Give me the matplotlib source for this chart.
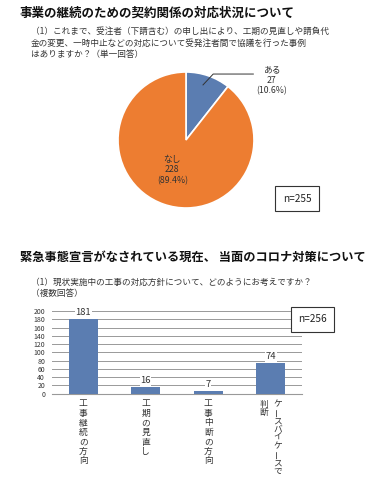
import matplotlib.pyplot as plt

plt.rcParams['font.family'] = ['Noto Sans CJK JP', 'DejaVu Sans']

# --- data ---
pie_labels = ['ある', 'なし']
pie_counts = [27, 228]
pie_pcts = [10.6, 89.4]
pie_n = 255

bar_labels = ['工事継続の方向', '工期の見直し', '工事中断の方向', 'ケースバイケースで\n判断']
bar_values = [181, 16, 7, 74]
bar_n = 256
y_ticks = list(range(0, 201, 20))

title1 = '事業の継続のための契約関係の対応状況について'
question1 = ('（1）これまで、受注者（下請含む）の申し出により、工期の見直しや請負代\n'
             '金の変更、一時中止などの対応について受発注者間で協議を行った事例\n'
             'はありますか？（単一回答）')
title2 = '緊急事態宣言がなされている現在、 当面のコロナ対策について'
question2 = '（1）現状実施中の工事の対応方針について、どのようにお考えですか？\n（複数回答）'

BLUE = '#5B7DB1'
ORANGE = '#ED7D31'
TXT = '#333333'

W, H = 383, 480
fig = plt.figure(figsize=(W / 100, H / 100), dpi=100)


def fx(px):
    return px / W


def fy(py):
    return 1 - py / H


# --- headings ---
fig.text(fx(20), fy(13), title1, fontsize=9, fontweight='bold', va='center', color='#111111')
fig.text(fx(31), fy(27), question1, fontsize=6.2, va='top', color=TXT, linespacing=1.35)
fig.text(fx(20), fy(257), title2, fontsize=8.8, fontweight='bold', va='center', color='#111111')
fig.text(fx(31), fy(278), question2, fontsize=6.2, va='top', color=TXT, linespacing=1.35)

# --- pie ---
r = 68
ax1 = fig.add_axes([fx(186 - r), fy(140 + r), 2 * r / W, 2 * r / H])
ax1.pie(pie_counts, colors=[BLUE, ORANGE], startangle=90, counterclock=False,
        wedgeprops=dict(edgecolor='white', linewidth=1.2))
ax1.set_aspect('equal')
ax1.set_xlim(-1, 1)
ax1.set_ylim(-1, 1)
ax1.axis('off')

ax1.plot([0.25, 0.40, 0.99], [0.81, 0.97, 0.97], color='#333333', lw=0.7, clip_on=False)
ax1.text(1.26, 0.88, f'{pie_labels[0]}\n{pie_counts[0]}\n({pie_pcts[0]}%)', ha='center', va='center',
         fontsize=6.3, color=TXT, linespacing=1.2)
ax1.text(-0.2, -0.44, f'{pie_labels[1]}\n{pie_counts[1]}\n({pie_pcts[1]}%)', ha='center', va='center',
         fontsize=6.3, color=TXT, linespacing=1.2)

fig.text(fx(297), fy(198.5), f'n={pie_n}', ha='center', va='center', fontsize=7.3, color='#222222',
         bbox=dict(boxstyle='square,pad=0.75', fc='white', ec='#333333', lw=0.8))

# --- bars ---
ax2 = fig.add_axes([fx(52), fy(393.7), 250 / W, (393.7 - 311) / H])
x = list(range(len(bar_values)))
ax2.bar(x, bar_values, width=0.47, color=BLUE, zorder=3)
ax2.set_xlim(-0.5, 3.5)
ax2.set_ylim(0, 200)
ax2.set_yticks(y_ticks)
ax2.set_xticks([])
ax2.tick_params(axis='y', length=0, labelsize=5, pad=5, colors='#333333')
ax2.grid(axis='y', color='#999999', lw=0.7, zorder=0)
for s in ['top', 'right', 'left']:
    ax2.spines[s].set_visible(False)
ax2.spines['bottom'].set_color('#999999')
ax2.set_facecolor('none')
for xi, v in zip(x, bar_values):
    ax2.text(xi, v + 4, str(v), ha='center', va='bottom', fontsize=6.8, color=TXT, zorder=4,
             bbox=dict(boxstyle='square,pad=0.05', fc='white', ec='none'))

fig.text(fx(312.5), fy(319.5), f'n={bar_n}', ha='center', va='center', fontsize=7.3, color='#222222',
         bbox=dict(boxstyle='square,pad=0.75', fc='white', ec='#333333', lw=0.8), zorder=5)


# vertical (tategaki) category labels, columns go right to left
def vertical_label(xc, text, step, top=404, col_gap=14):
    cols = text.split('\n')
    n = len(cols)
    for ci, col in enumerate(cols):
        cx = xc + (n - 1) * col_gap / 2 - ci * col_gap
        for k, ch in enumerate(col):
            rot = 90 if ch == 'ー' else 0
            fig.text(fx(cx), fy(top + k * step), ch, ha='center', va='center', fontsize=6.3,
                     color=TXT, rotation=rot)


label_steps = [9.5, 9.5, 9.5, 8.4]
fig.canvas.draw()
for xi, lab, st in zip(x, bar_labels, label_steps):
    px = ax2.transData.transform((xi, 0))[0]
    vertical_label(px, lab, st)

fig.savefig('out.png', dpi=100)
